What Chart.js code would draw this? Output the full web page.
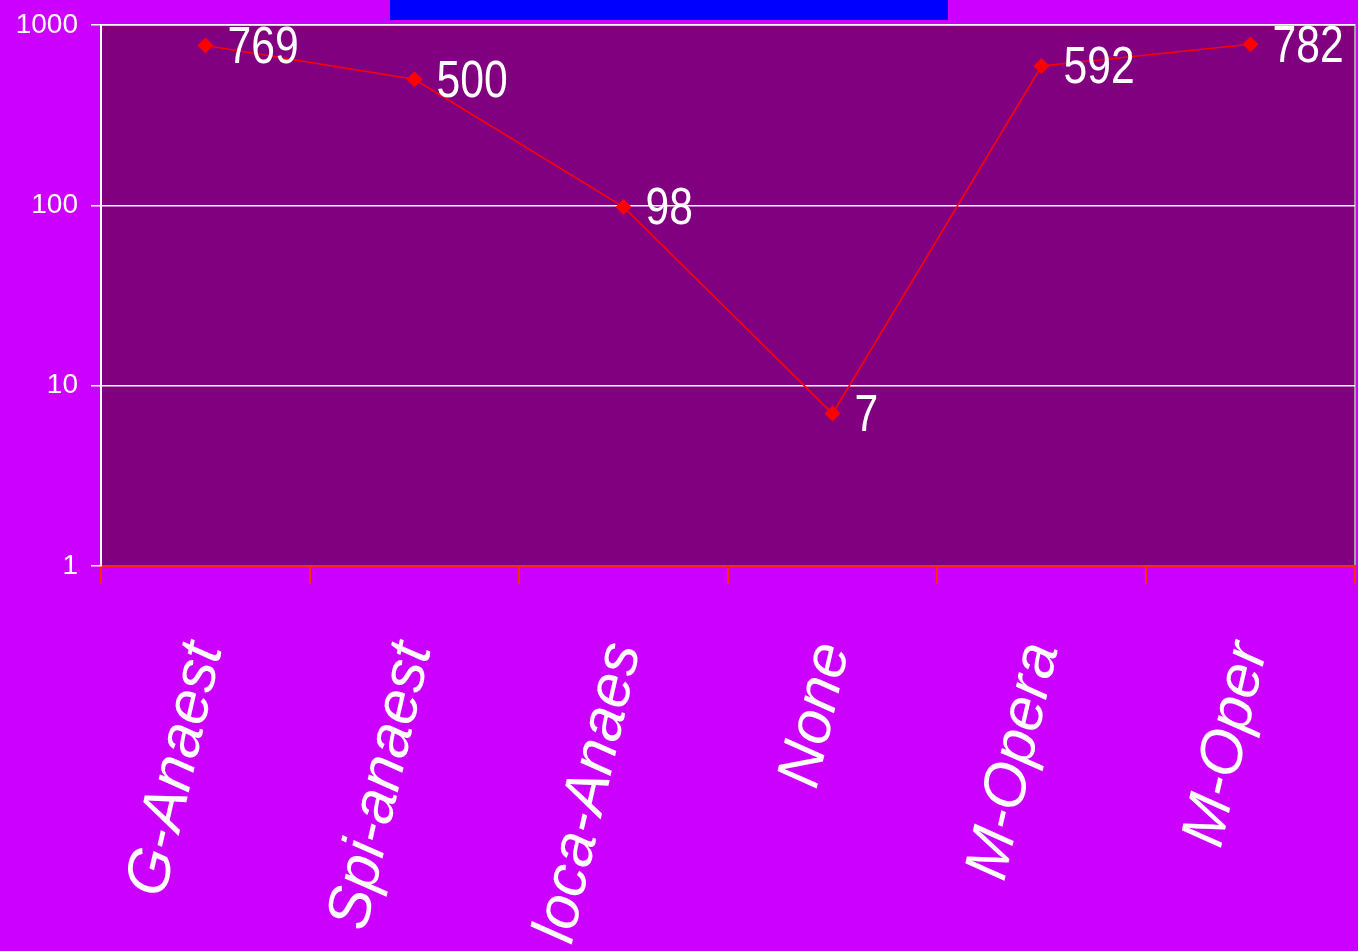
<!DOCTYPE html>
<html>
<head>
<meta charset="utf-8">
<script src="https://cdn.jsdelivr.net/npm/chart.js@4.4.1/dist/chart.umd.min.js"></script>
<style>
  html, body { margin: 0; padding: 0; background: #CC00FF; overflow: hidden; }
  #wrap { width: 1358px; height: 951px; position: relative; }
</style>
</head>
<body>
<div id="wrap"><canvas id="chart"></canvas></div>
<script>
const categories = ["G-Anaest", "Spi-anaest", "loca-Anaes", "None", "M-Opera", "M-Oper"];
const counts = [769, 500, 98, 7, 592, 782];
const yTickValues = [1, 10, 100, 1000];

const sans = '"Liberation Sans", Arial, sans-serif';

// purple plot area, grey frame on top/right, blue title block
const backdrop = {
  id: "backdrop",
  beforeDraw(chart) {
    const { ctx, chartArea: a } = chart;
    ctx.save();
    ctx.fillStyle = "#0000FF";
    ctx.fillRect(390, 0, 558, 20);
    ctx.fillStyle = "#800080";
    ctx.fillRect(a.left, a.top, a.right - a.left, a.bottom - a.top);
    ctx.strokeStyle = "#A0A0A0";
    ctx.lineWidth = 2;
    ctx.beginPath();
    ctx.moveTo(a.left, a.top);
    ctx.lineTo(a.right, a.top);
    ctx.lineTo(a.right, a.bottom);
    ctx.stroke();
    ctx.restore();
  }
};

// value labels right of each point (narrowed like Arial Narrow)
const pointLabels = {
  id: "pointLabels",
  afterDatasetsDraw(chart) {
    const { ctx } = chart;
    const meta = chart.getDatasetMeta(0);
    ctx.save();
    ctx.fillStyle = "#FFFFFF";
    ctx.font = "52px " + sans;
    ctx.textAlign = "left";
    ctx.textBaseline = "middle";
    meta.data.forEach((pt, i) => {
      ctx.save();
      ctx.translate(pt.x + 22, pt.y + 3);
      ctx.scale(0.82, 1);
      ctx.fillText(String(counts[i]), 0, 0);
      ctx.restore();
    });
    ctx.restore();
  }
};

new Chart(document.getElementById("chart"), {
  type: "line",
  data: {
    labels: categories,
    datasets: [
      {
        data: counts,
        borderColor: "#FF0000",
        borderWidth: 1.6,
        backgroundColor: "#FF0000",
        pointStyle: "rectRot",
        pointRadius: 8,
        pointBorderWidth: 0,
        pointBackgroundColor: "#FF0000",
        tension: 0,
        fill: false,
      },
    ],
  },
  options: {
    animation: false,
    responsive: true,
    maintainAspectRatio: false,
    layout: { autoPadding: false, padding: { top: 25, right: 3, left: 0, bottom: 0 } },
    plugins: {
      legend: { display: false },
      tooltip: { enabled: false },
    },
    scales: {
      x: {
        type: "category",
        offset: true,
        afterFit(scale) {
          scale.height = 385;
          scale.paddingLeft = 0;
          scale.paddingRight = 0;
        },
        grid: {
          offset: true,
          drawOnChartArea: false,
          drawTicks: true,
          tickLength: 18,
          color: "#FF2A00",
          lineWidth: 2,
        },
        border: { color: "#FF2A00", width: 2 },
        ticks: {
          color: "#FFFFFF",
          autoSkip: false,
          minRotation: 77,
          maxRotation: 77,
          padding: 52,
          font: { family: sans, size: 61, style: "italic" },
        },
      },
      y: {
        type: "logarithmic",
        min: 1,
        max: 1000,
        afterFit(scale) {
          scale.width = 101;
          scale.paddingTop = 0;
          scale.paddingBottom = 0;
        },
        afterBuildTicks(scale) {
          scale.ticks = yTickValues.map(v => ({ value: v }));
        },
        grid: {
          color: "#FFFFFF",
          lineWidth: 1.5,
          tickLength: 10,
        },
        border: { color: "#FFFFFF", width: 2 },
        ticks: {
          color: "#FFFFFF",
          padding: 13,
          font: { family: sans, size: 28 },
          callback: v => String(v),
        },
      },
    },
  },
  plugins: [backdrop, pointLabels],
});
</script>
</body>
</html>
